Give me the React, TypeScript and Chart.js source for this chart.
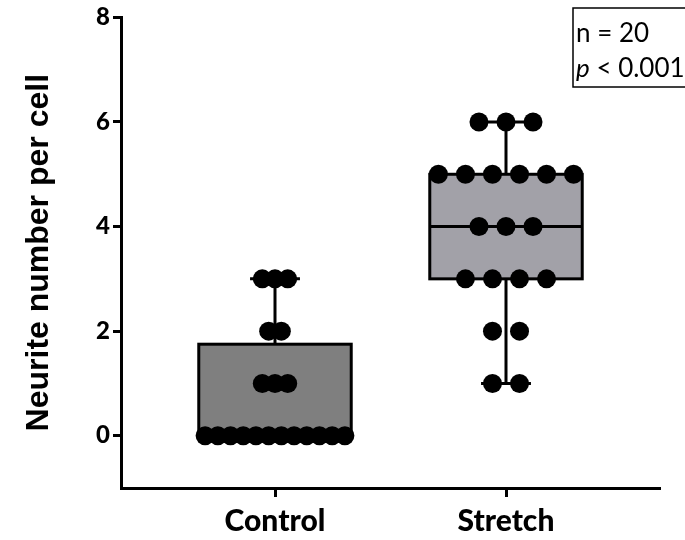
import React, { useEffect, useRef } from "react";
import { Chart, registerables } from "chart.js";

Chart.register(...registerables);

const categories = ["Control", "Stretch"];
const controlValues = [0, 0, 0, 0, 0, 0, 0, 0, 0, 0, 0, 0, 1, 1, 1, 2, 2, 3, 3, 3];
const stretchValues = [1, 1, 2, 2, 3, 3, 3, 3, 4, 4, 4, 5, 5, 5, 5, 5, 5, 6, 6, 6];
const boxMin = [0, 1];
const boxQ1 = [0, 3];
const boxMedian = [0, 4];
const boxQ3 = [1.75, 5];
const boxMax = [3, 6];
const yTicks = [0, 2, 4, 6, 8];
const statLines = ["n = 20", "p < 0.001"];

const boxFills = ["#7f7f7f", "#a2a1a8"];
const dotSpacing = [0.055, 0.117];
const BOX_HALF = 0.33;
const CAP_HALF = 0.108;

function swarm(values: number[], g: number) {
  const counts: Record<string, number> = {};
  values.forEach((v) => (counts[v] = (counts[v] || 0) + 1));
  const seen: Record<string, number> = {};
  return values.map((v) => {
    const m = counts[v];
    const k = seen[v] || 0;
    seen[v] = k + 1;
    return { x: g + 1 + (k - (m - 1) / 2) * dotSpacing[g], y: v };
  });
}

const boxPlugin = {
  id: "boxPlugin",
  beforeDatasetsDraw(chart: any) {
    const ctx = chart.ctx;
    const xs = chart.scales.x;
    const ys = chart.scales.y;
    ctx.save();
    ctx.strokeStyle = "#000";
    ctx.lineWidth = 3;
    ctx.lineCap = "butt";
    for (let g = 0; g < categories.length; g++) {
      const cx = xs.getPixelForValue(g + 1);
      const l = xs.getPixelForValue(g + 1 - BOX_HALF);
      const r = xs.getPixelForValue(g + 1 + BOX_HALF);
      const cl = xs.getPixelForValue(g + 1 - CAP_HALF);
      const cr = xs.getPixelForValue(g + 1 + CAP_HALF);
      const yq1 = ys.getPixelForValue(boxQ1[g]);
      const yq3 = ys.getPixelForValue(boxQ3[g]);
      const ymed = ys.getPixelForValue(boxMedian[g]);
      const ymin = ys.getPixelForValue(boxMin[g]);
      const ymax = ys.getPixelForValue(boxMax[g]);
      ctx.beginPath();
      ctx.moveTo(cx, yq3);
      ctx.lineTo(cx, ymax);
      ctx.moveTo(cx, yq1);
      ctx.lineTo(cx, ymin);
      ctx.moveTo(cl, ymax);
      ctx.lineTo(cr, ymax);
      ctx.moveTo(cl, ymin);
      ctx.lineTo(cr, ymin);
      ctx.stroke();
      ctx.fillStyle = boxFills[g];
      ctx.fillRect(l, yq3, r - l, yq1 - yq3);
      ctx.strokeRect(l, yq3, r - l, yq1 - yq3);
      ctx.beginPath();
      ctx.moveTo(l, ymed);
      ctx.lineTo(r, ymed);
      ctx.stroke();
    }
    ctx.restore();
  },
  afterDraw(chart: any) {
    const ctx = chart.ctx;
    ctx.save();
    ctx.strokeStyle = "#000";
    ctx.lineWidth = 1.5;
    ctx.strokeRect(573, 8, 130, 79);
    ctx.fillStyle = "#000";
    ctx.textBaseline = "alphabetic";
    ctx.textAlign = "left";
    ctx.font = "26px Lato";
    ctx.fillText(statLines[0], 576, 42);
    ctx.font = "italic 26px Lato";
    ctx.fillText("p", 576, 77);
    const w = ctx.measureText("p").width;
    ctx.font = "26px Lato";
    ctx.fillText(statLines[1].slice(1), 576 + w, 77);
    ctx.restore();
  },
};

export default function App() {
  const ref = useRef<HTMLCanvasElement>(null);
  useEffect(() => {
    document.body.style.margin = "0";
    const chart = new Chart(ref.current!, {
      type: "scatter",
      data: {
        datasets: [
          {
            data: swarm(controlValues, 0),
            pointRadius: 9.5,
            pointBackgroundColor: "#000",
            pointBorderWidth: 0,
          },
          {
            data: swarm(stretchValues, 1),
            pointRadius: 9.5,
            pointBackgroundColor: "#000",
            pointBorderWidth: 0,
          },
        ],
      },
      options: {
        responsive: false,
        animation: false,
        events: [],
        layout: { padding: { top: 16, right: 25, left: 0, bottom: 0 } },
        plugins: { legend: { display: false }, tooltip: { enabled: false } },
        scales: {
          x: {
            type: "linear",
            min: 1 / 3,
            max: 8 / 3,
            afterBuildTicks: (s: any) => {
              s.ticks = categories.map((_, i) => ({ value: i + 1 }));
            },
            afterFit: (s: any) => {
              s.height = 52;
            },
            ticks: {
              callback: (v: any) => categories[Number(v) - 1] ?? "",
              color: "#000",
              font: { family: "Lato", weight: "900", size: 30 },
              padding: 6,
              maxRotation: 0,
              autoSkip: false,
            },
            grid: {
              drawOnChartArea: false,
              tickLength: 9,
              tickWidth: 3,
              tickColor: "#000",
            },
            border: { display: true, width: 3, color: "#000" },
          },
          y: {
            min: -1,
            max: 8,
            afterBuildTicks: (s: any) => {
              s.ticks = yTicks.map((v) => ({ value: v }));
            },
            afterFit: (s: any) => {
              s.width = 121;
            },
            ticks: {
              color: "#000",
              font: { family: "Lato", weight: "900", size: 24 },
              padding: 3,
            },
            grid: {
              drawOnChartArea: false,
              tickLength: 8,
              tickWidth: 3,
              tickColor: "#000",
            },
            border: { display: true, width: 3, color: "#000" },
            title: {
              display: true,
              text: "Neurite number per cell",
              color: "#000",
              font: { family: "Liberation Sans", weight: "bold", size: 32 },
              padding: { top: 20, bottom: 0 },
            },
          },
        },
      },
      plugins: [boxPlugin],
    });
    return () => chart.destroy();
  }, []);
  return (
    <div style={{ width: 685, height: 540 }}>
      <canvas ref={ref} width={685} height={540} style={{ display: "block" }} />
    </div>
  );
}
